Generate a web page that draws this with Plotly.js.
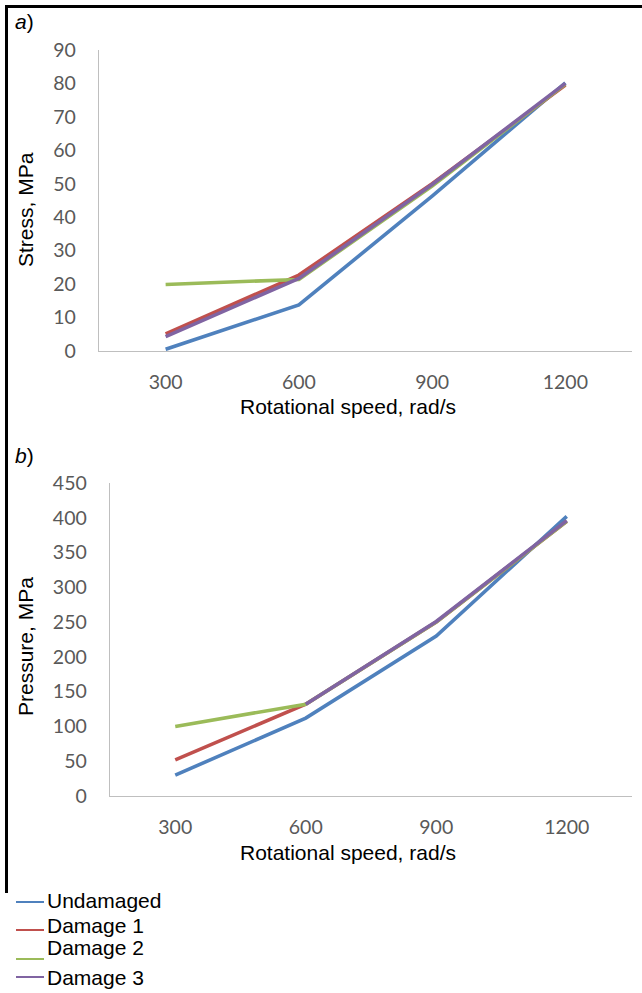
<!DOCTYPE html>
<html>
<head>
<meta charset="utf-8">
<script src="https://cdn.plot.ly/plotly-3.0.1.min.js"></script>
<style>html,body{margin:0;padding:0;background:#fff;}#chart{width:642px;height:993px;}</style>
</head>
<body>
<div id="chart"></div>
<script>
// ---- data ----
const categories = ['300', '600', '900', '1200'];
const seriesNames = ['Undamaged', 'Damage 1', 'Damage 2', 'Damage 3'];
const seriesColors = ['#4F81BD', '#C0504D', '#9BBB59', '#8064A2'];

// a) Stress, MPa
const stressUndamaged = [0.5, 13.8, 46.3, 80.2];
const stressDamage1   = [5.1, 22.7, 50.0, 79.5];
const stressDamage2   = [19.9, 21.4, 49.3, 79.8];
const stressDamage3   = [4.3, 21.7, 49.8, 80.0];

// b) Pressure, MPa
const pressureUndamaged = [30, 112, 230, 402];
const pressureDamage1   = [52, 132, 250, 395];
const pressureDamage2   = [100, 132, 250, 395];
const pressureDamage3   = [null, 132, 251, 396];

const stressTicks = [0, 10, 20, 30, 40, 50, 60, 70, 80, 90];
const pressureTicks = [0, 50, 100, 150, 200, 250, 300, 350, 400, 450];

// ---- layout helpers ----
const W = 642, H = 993;
const px = x => x / W;
const py = y => 1 - y / H;

const stressSets = [stressUndamaged, stressDamage1, stressDamage2, stressDamage3];
const pressureSets = [pressureUndamaged, pressureDamage1, pressureDamage2, pressureDamage3];

const traces = [];
stressSets.forEach((vals, i) => {
  traces.push({
    type: 'scatter', mode: 'lines', x: categories, y: vals,
    xaxis: 'x', yaxis: 'y', name: seriesNames[i],
    line: {color: seriesColors[i], width: 3.6}, showlegend: false, hoverinfo: 'skip'
  });
});
pressureSets.forEach((vals, i) => {
  traces.push({
    type: 'scatter', mode: 'lines', x: categories, y: vals,
    xaxis: 'x2', yaxis: 'y2', name: seriesNames[i], connectgaps: false,
    line: {color: seriesColors[i], width: 3.6}, showlegend: false, hoverinfo: 'skip'
  });
});

const tickFont = {family: 'Lato, "Open Sans", sans-serif', size: 19.5, color: '#595959'};
const textFont = {family: '"Liberation Sans", Arial, sans-serif', size: 21, color: '#000'};
const axisLine = '#BFBFBF';

function xAxis(domain, anchor) {
  return {
    domain: domain, anchor: anchor, type: 'category', range: [-0.5, 3.5],
    showline: true, linecolor: axisLine, linewidth: 1.3, showgrid: false, zeroline: false,
    ticks: 'outside', ticklen: 13, tickcolor: 'rgba(0,0,0,0)', tickfont: tickFont,
    fixedrange: true
  };
}
function yAxis(domain, anchor, range, ticks) {
  return {
    domain: domain, anchor: anchor, range: range, tickmode: 'array', tickvals: ticks,
    ticktext: ticks.map(String),
    showline: true, linecolor: axisLine, linewidth: 1.3, showgrid: false, zeroline: false,
    ticks: 'outside', ticklen: 18, tickcolor: 'rgba(0,0,0,0)', tickfont: tickFont,
    fixedrange: true
  };
}

const annotations = [
  {text: '<i>a</i>)', x: px(13), y: py(22), xanchor: 'left', yanchor: 'middle'},
  {text: '<i>b</i>)', x: px(13), y: py(456), xanchor: 'left', yanchor: 'middle'},
  {text: 'Stress, MPa', x: px(25), y: py(210), xanchor: 'center', yanchor: 'middle', textangle: -90},
  {text: 'Pressure, MPa', x: px(25), y: py(647), xanchor: 'center', yanchor: 'middle', textangle: -90},
  {text: 'Rotational speed, rad/s', x: px(348), y: py(406), xanchor: 'center', yanchor: 'middle'},
  {text: 'Rotational speed, rad/s', x: px(348), y: py(852), xanchor: 'center', yanchor: 'middle'}
];
const legendTextY = [900, 925.5, 947, 977.5];
const legendLineY = [902, 930, 959, 977];
seriesNames.forEach((n, i) => {
  annotations.push({text: n, x: px(45), y: py(legendTextY[i]), xanchor: 'left', yanchor: 'middle'});
});
annotations.forEach(a => { a.xref = 'paper'; a.yref = 'paper'; a.showarrow = false; a.font = textFont; });

const shapes = [
  {type: 'line', x0: px(5), x1: px(642), y0: py(6.5), y1: py(6.5), line: {color: '#000', width: 3}},
  {type: 'line', x0: px(6.5), x1: px(6.5), y0: py(5), y1: py(893), line: {color: '#000', width: 3}}
];
seriesColors.forEach((c, i) => {
  shapes.push({type: 'line', x0: px(16), x1: px(44), y0: py(legendLineY[i]), y1: py(legendLineY[i]),
               line: {color: c, width: 2}});
});
shapes.forEach(s => { s.xref = 'paper'; s.yref = 'paper'; });

const layout = {
  width: W, height: H, margin: {l: 0, r: 0, t: 0, b: 0},
  paper_bgcolor: '#fff', plot_bgcolor: '#fff', showlegend: false,
  xaxis: xAxis([px(99), px(632)], 'y'),
  yaxis: yAxis([py(351), py(50)], 'x', [0, 90], stressTicks),
  xaxis2: xAxis([px(110), px(632)], 'y2'),
  yaxis2: yAxis([py(796), py(483)], 'x2', [0, 450], pressureTicks),
  annotations: annotations,
  shapes: shapes
};

Plotly.newPlot('chart', traces, layout, {displayModeBar: false, staticPlot: true});
</script>
</body>
</html>
